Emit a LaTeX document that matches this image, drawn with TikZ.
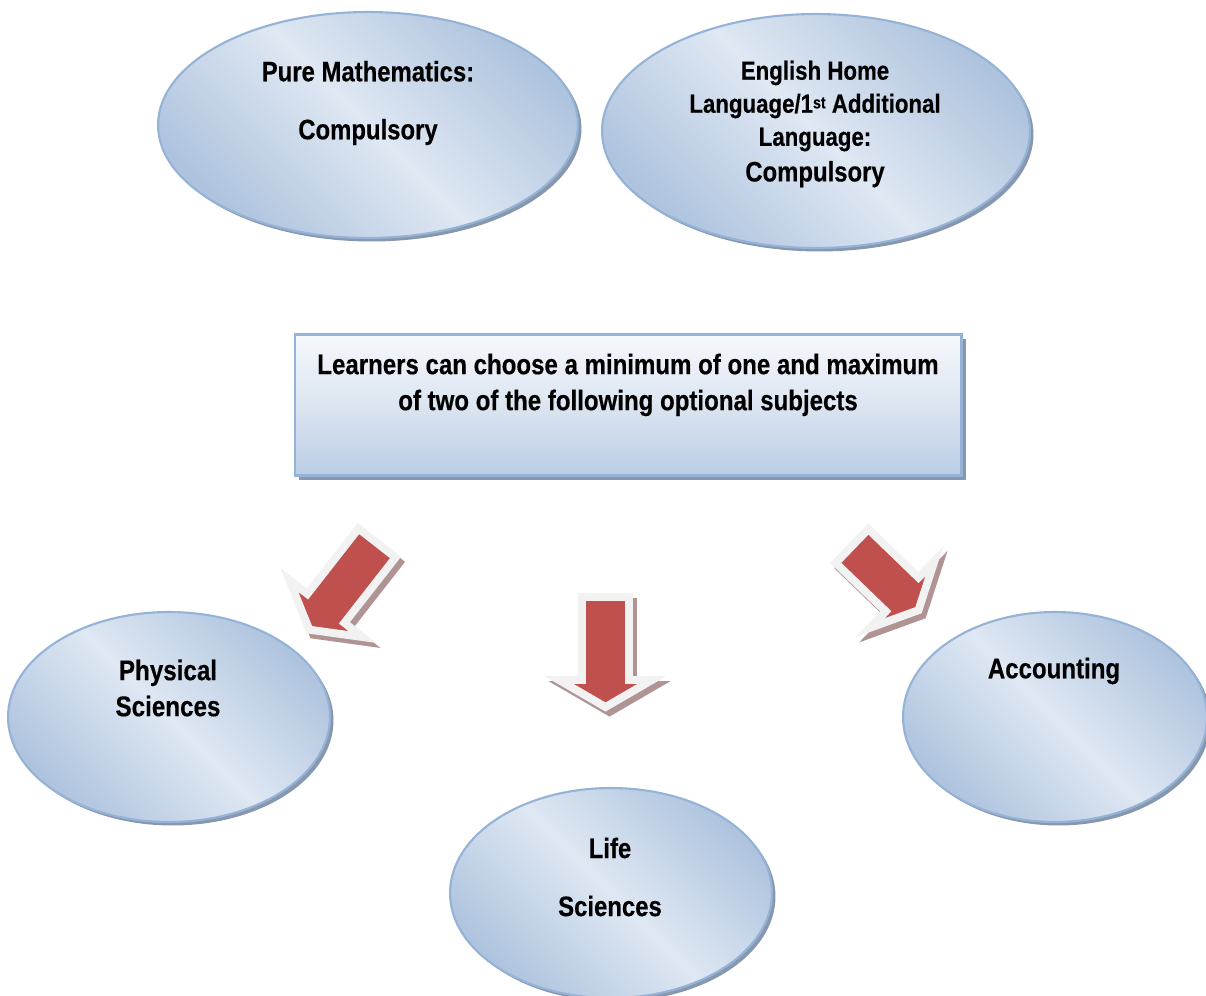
\documentclass[tikz,border=0pt]{standalone}
\usepackage{fontspec}
\setmainfont{Liberation Sans}[FakeStretch=0.85, BoldFeatures={FakeBold=0.4}]
\usetikzlibrary{shapes.geometric,shadows,positioning}

\definecolor{ellborder}{HTML}{95B3D7}
\definecolor{elldark}{HTML}{AEC3DE}
\definecolor{elllight}{HTML}{DFE8F3}
\definecolor{shadowgray}{HTML}{8797AE}
\definecolor{boxtop}{HTML}{F6F8FC}
\definecolor{boxmid}{HTML}{DCE5F1}
\definecolor{boxbottom}{HTML}{B9CDE5}
\definecolor{arrowred}{HTML}{C0504D}
\definecolor{arrowrim}{HTML}{F2F2F2}
\definecolor{arrowshadow}{HTML}{B09494}

\tikzset{
  subject/.style={ellipse, draw=ellborder, line width=1.2pt, inner sep=0pt,
    top color=elldark, bottom color=elldark, middle color=elllight,
    shading angle=-45,
    drop shadow={shadow xshift=2pt, shadow yshift=-2pt, fill=shadowgray, opacity=1}},
  subjtext/.style={align=center, font=\bfseries\fontsize{16}{19}\selectfont},
  optbox/.style={rectangle, draw=ellborder, line width=1.2pt, inner sep=0pt,
    minimum width=13.34cm, minimum height=2.82cm,
    top color=boxtop, bottom color=boxbottom, middle color=boxmid,
    drop shadow={shadow xshift=2.5pt, shadow yshift=-2.5pt, fill=shadowgray, opacity=1}},
  blockarrow/.pic={
    \path[pic actions, line width=4.5pt, line join=miter]
      (-23.5,0) -- (23.5,0) -- (23.5,83) -- (46.5,83) -- (0,110)
      -- (-46.5,83) -- (-23.5,83) -- cycle;
  }
}
\newcommand{\supst}{\raisebox{2.5pt}{\fontsize{9.5}{9.5}\selectfont st}}

\begin{document}
\begin{tikzpicture}[x=0.02cm, y=-0.02cm]
  \useasboundingbox (0,0) rectangle (1206,996);

  % compulsory subjects
  \node[subject, minimum width=8.4cm, minimum height=4.52cm] (math) at (368,125) {};
  \node[subjtext] (mathtxt) at (368,103) {Pure Mathematics:\\[14pt]Compulsory};
  \node[subject, minimum width=8.56cm, minimum height=4.68cm] (eng) at (816,131) {};
  \node[subjtext, font=\bfseries\fontsize{14.9}{18.8}\selectfont] (engtxt) at (815,124)
    {English Home\\Language/1\supst{} Additional\\Language:\\[1.5pt]\fontsize{16}{19}\selectfont Compulsory};

  % optional subjects
  \node[optbox] (box) at (628,405) {};
  \node[align=center, font=\bfseries\fontsize{16.1}{20.5}\selectfont, below=0.28cm of box.north] (boxtxt)
    {Learners can choose a minimum of one and maximum\\of two of the following optional subjects};

  \node[subject, minimum width=6.44cm, minimum height=4.2cm] (phys) at (169,717) {};
  \node[subjtext, font=\bfseries\fontsize{16.2}{20.5}\selectfont] (phystxt) at (168,688) {Physical\\Sciences};
  \node[subject, minimum width=6.08cm, minimum height=4.2cm] (acc) at (1055,717) {};
  \node[subjtext, font=\bfseries\fontsize{16.1}{20.5}\selectfont] (acctxt) at (1054,671) {Accounting};
  \node[subject, minimum width=6.44cm, minimum height=4.2cm] (life) at (611,893) {};
  \node[subjtext] (lifetxt) at (610,877) {Life\\[14pt]Sciences};

  % arrows
  \foreach \x/\y/\a/\s in {377/543/-38/1, 605.5/597/0/1, 852/546/46/0.84}
  {
    \pic[fill=arrowshadow, draw=arrowshadow, rotate=\a, yscale=\s] at (\x+4,\y+5) {blockarrow};
    \pic[fill=arrowred, draw=arrowrim, rotate=\a, yscale=\s] at (\x,\y) {blockarrow};
  }
\end{tikzpicture}
\end{document}
